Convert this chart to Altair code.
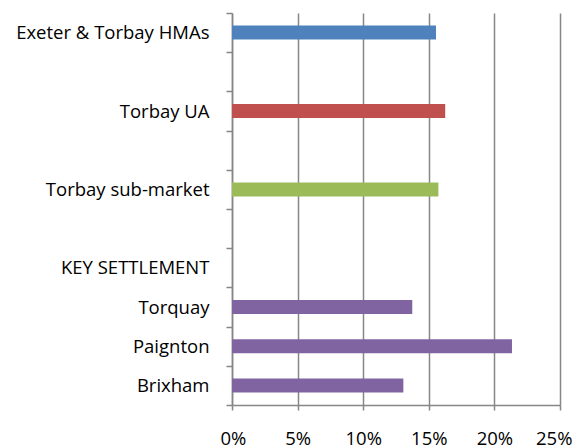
import altair as alt
import pandas as pd

# Row order on the y axis (blank rows are spacer bands)
rows = ["Exeter & Torbay HMAs", " ", "Torbay UA", "  ", "Torbay sub-market", "   ",
        "KEY SETTLEMENT", "Torquay", "Paignton", "Brixham"]

bar_labels = ["Exeter & Torbay HMAs", "Torbay UA", "Torbay sub-market",
              "Torquay", "Paignton", "Brixham"]
bar_values = [0.1555, 0.1625, 0.1573, 0.1374, 0.2134, 0.1306]
bar_groups = ["HMA", "UA", "Sub-market", "Settlement", "Settlement", "Settlement"]

group_names = ["HMA", "UA", "Sub-market", "Settlement"]
group_colors = ["#4F81BD", "#C0504D", "#9BBB59", "#8064A2"]

x_ticks = [0, 0.05, 0.10, 0.15, 0.20, 0.25]

df = pd.DataFrame({"label": bar_labels, "value": bar_values, "group": bar_groups})

FONT = "Open Sans"
GRAY = "#868686"

chart = alt.Chart(df).mark_bar(size=14).encode(
    x=alt.X("value:Q",
            scale=alt.Scale(domain=[0, 0.25], nice=False),
            axis=alt.Axis(values=x_ticks, format=".0%", title=None,
                          grid=True, gridColor=GRAY, gridWidth=1.5,
                          domainColor=GRAY, domainWidth=1.5,
                          tickColor=GRAY, tickWidth=1.5, tickSize=5,
                          labelFlush=True, labelFlushOffset=12,
                          labelPadding=19, labelFontSize=18.5, labelFont=FONT,
                          labelColor="#000000")),
    y=alt.Y("label:N",
            sort=rows,
            scale=alt.Scale(domain=rows, paddingInner=0, paddingOuter=0),
            axis=alt.Axis(title=None, tickBand="extent", grid=False,
                          domainColor=GRAY, domainWidth=1.5,
                          tickColor=GRAY, tickWidth=1.5, tickSize=6,
                          labelPadding=17, labelFontSize=18.5, labelFont=FONT,
                          labelColor="#000000", labelLimit=300)),
    color=alt.Color("group:N",
                    scale=alt.Scale(domain=group_names, range=group_colors),
                    legend=None),
).properties(
    width=328,
    height=392,
    autosize=alt.AutoSizeParams(type="none"),
    padding={"left": 224, "top": 5, "right": 13, "bottom": 45},
).configure_view(stroke=None)

chart.save("out.html", embed_options={"renderer": "svg", "actions": False})
